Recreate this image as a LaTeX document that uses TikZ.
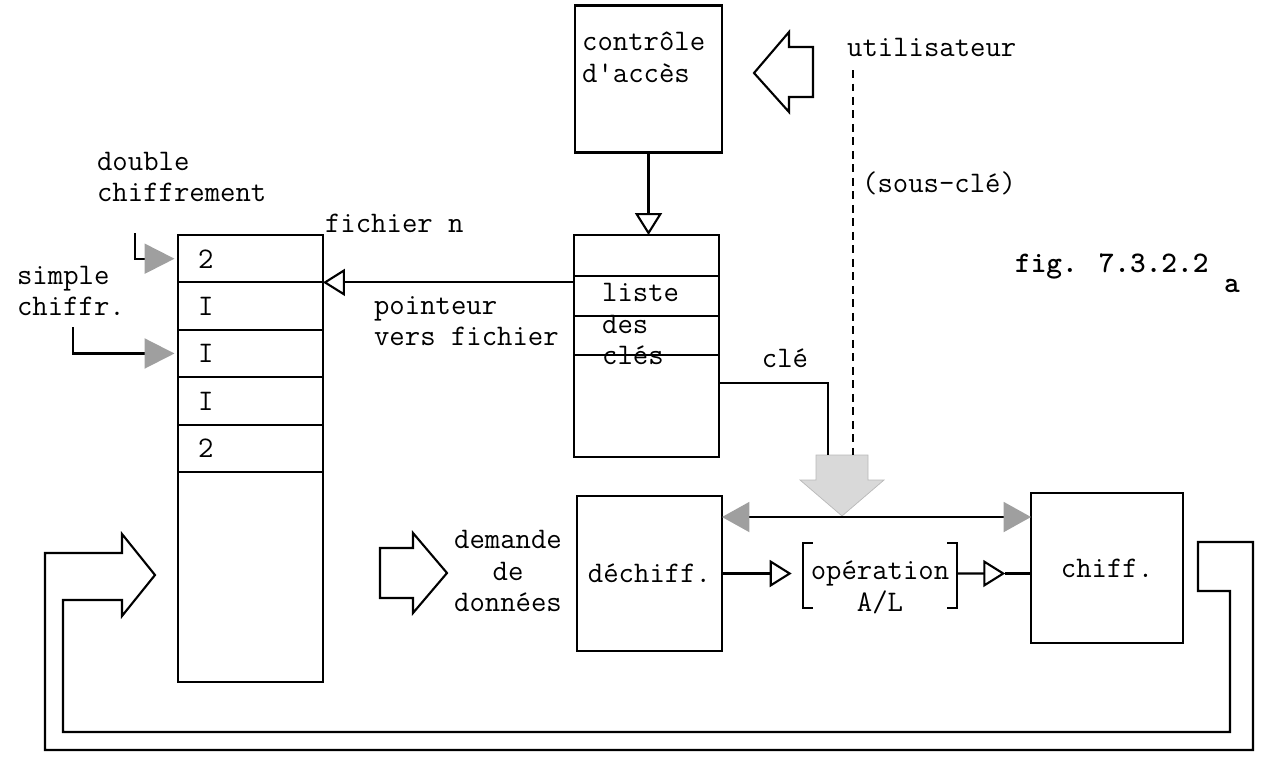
\documentclass[tikz,border=0pt]{standalone}
\usetikzlibrary{arrows.meta,positioning,calc}

\tikzset{
  box/.style={draw, very thick, outer sep=0pt, inner sep=0pt, minimum width=2.9cm},
  lbl/.style={font=\ttfamily\fontsize{17}{18}\selectfont, inner sep=1pt, align=left},
  row/.style={box, lbl, minimum height=0.948cm, text width=2.1cm, inner xsep=0.4cm},
  hollow/.style={very thick, -{Triangle[length=0.44cm, width=0.54cm, fill=white]}},
  grayhead/.style={very thick, -{Triangle[length=0.6cm, width=0.6cm, fill=gray!75, color=gray!75]}},
  fatarrow/.style={very thick, line join=miter},
}

\begin{document}
\begin{tikzpicture}[x=0.02cm, y=-0.02cm]
    \useasboundingbox (0,0) rectangle (1266,761);

    \node[row] (s1) at (250.5,258.7) {2};
    \node[row, below=0pt of s1] (s2) {I};
    \node[row, below=0pt of s2] (s3) {I};
    \node[row, below=0pt of s3] (s4) {I};
    \node[row, below=0pt of s4] (s5) {2};
    \node[box, minimum height=4.2cm, below=0pt of s5] (s6) {};
    \node[lbl, anchor=south west] (fichn) at (s1.north east) {fichier n};

    \node[box, minimum width=2.94cm, minimum height=2.94cm] (ctrl) at (648.5,79) {};
    \node[lbl, font=\ttfamily\fontsize{17}{18}\selectfont, anchor=west] (ctrltxt) at (580,57) {contrôle\\d'accès};

    \node[box, minimum height=4.44cm] (list) at (646.5,346) {};
    \foreach \y in {276,316,355}
        \draw[thick] (list.west |- 0,\y) -- (list.east |- 0,\y);
    \node[lbl, anchor=west] (lst) at (600,324) {liste\\des\\clés};

    \node[box, lbl, minimum height=3.1cm] (dech) at (649.5,573.5) {déchiff.};
    \node[box, lbl, minimum width=3.04cm, minimum height=3cm] (chif) at (1107,568) {chiff.};

    \node[minimum width=3.08cm, minimum height=1.3cm, inner sep=0pt] (op) at (880,575.5) {};
    \node[lbl, align=center] (optxt) at ([yshift=-0.24cm]op.center) {opération\\A/L};
    \draw[very thick] ([xshift=0.2cm]op.north west) -- (op.north west) -- (op.south west) -- ([xshift=0.2cm]op.south west);
    \draw[very thick] ([xshift=-0.2cm]op.north east) -- (op.north east) -- (op.south east) -- ([xshift=-0.2cm]op.south east);

    \node[lbl, anchor=west] (util) at (845,47) {utilisateur};
    \node[lbl, anchor=west] (scle) at (860,183) {(sous-clé)};
    \node[lbl, font=\ttfamily\bfseries\fontsize{17}{18}\selectfont, anchor=west] (fig) at (1013,266) {fig. 7.3.2.2};
    \node[lbl, font=\ttfamily\bfseries\fontsize{17}{18}\selectfont] (figa) at (1232,286) {a};
    \node[lbl, anchor=west] (dbltxt) at (95,177) {double\\chiffrement};
    \node[lbl, anchor=west] (smptxt) at (15,291) {simple\\chiffr.};
    \node[lbl, anchor=west] (ptr) at (372,321) {pointeur\\vers fichier};
    \node[lbl] (cle) at (785,358) {clé};
    \node[lbl, align=center] (dem) at (508,571) {demande\\de\\données};

    \draw[hollow] (ctrl.south) -- (ctrl.south |- list.north);
    \draw[hollow] (list.west |- s2.north) -- (s2.north east);

    \coordinate (dbl) at (135,233);
    \coordinate (smp) at (73,327);
    \draw[grayhead, shorten >=2pt] (dbl) |- (s1.west);
    \draw[grayhead, shorten >=2pt] (smp) |- (s3.west);

    \coordinate (gtop) at (842,455);
    \coordinate (ut) at (853,70);
    \fill[gray!30, draw=gray!55] (816,455) -- (868,455) -- (868,480) -- (884,480) -- (842,516) -- (800,480) -- (816,480) -- cycle;
    \draw[very thick, dash pattern=on 0.16cm off 0.11cm] (ut) -- (ut |- gtop);
    \draw[very thick] (list.east |- 0,383) -| ([xshift=-0.28cm]gtop);

    \coordinate (dl) at ([yshift=-0.42cm]dech.north east);
    \draw[very thick, {Triangle[length=0.55cm, width=0.6cm, fill=gray!75, color=gray!75]}-{Triangle[length=0.55cm, width=0.6cm, fill=gray!75, color=gray!75]}] (dl) -- (dl -| chif.west);

    \draw[hollow, shorten >=0.22cm] (dech.east) -- (dech.east -| op.west);
    \coordinate (oe) at (op.east |- dech.east);
    \coordinate (otip) at ($(oe)!0.65!(oe -| chif.west)$);
    \draw[hollow] (oe) -- (otip);
    \draw[very thick] (otip) -- (otip -| chif.west);

    \draw[fatarrow] (813,47) -- (789,47) -- (789,32) -- (754,73) -- (789,112) -- (789,97) -- (813,97) -- cycle;
    \draw[fatarrow] (380,548) -- (413,548) -- (413,533) -- (447,573) -- (413,613) -- (413,598) -- (380,598) -- cycle;
    \draw[fatarrow] (1198,542) -- (1253,542) -- (1253,750) -- (45,750) -- (45,553) -- (122,553) -- (122,534) -- (155,575) -- (122,616) -- (122,600) -- (63,600) -- (63,732) -- (1230,732) -- (1230,591) -- (1198,591) -- cycle;
\end{tikzpicture}
\end{document}
